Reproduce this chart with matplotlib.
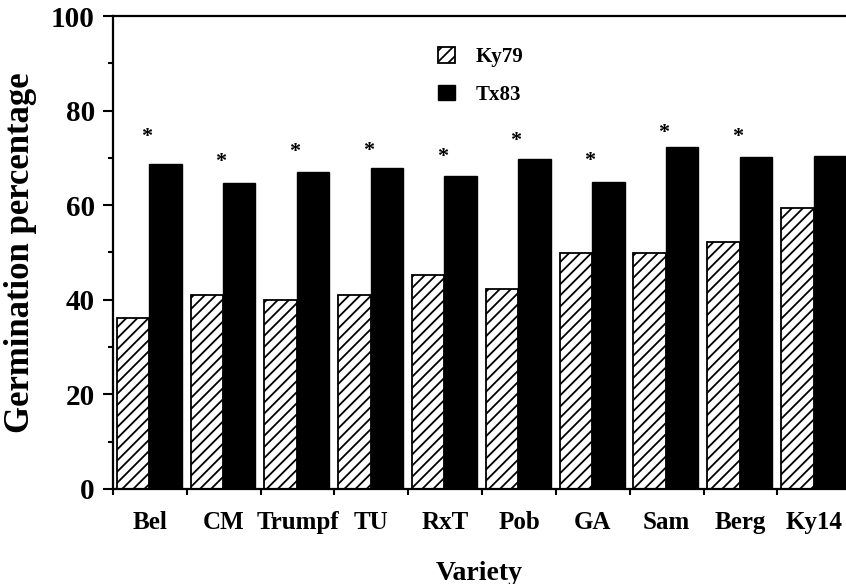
import numpy as np
import matplotlib
matplotlib.use('Agg')
import matplotlib.pyplot as plt
from matplotlib.ticker import FixedLocator, MultipleLocator

varieties = ['Bel', 'CM', 'Trumpf', 'TU', 'RxT', 'Pob', 'GA', 'Sam', 'Berg', 'Ky14']
ky79 = [36.2, 41.0, 40.0, 41.0, 45.2, 42.3, 49.9, 49.9, 52.2, 59.4]
tx83 = [68.7, 64.7, 67.0, 67.9, 66.2, 69.8, 65.0, 72.3, 70.2, 70.3]
# asterisks (significant difference) and their heights
star_y = [74.4, 69.1, 71.2, 71.5, 70.2, 73.6, 69.3, 75.3, 74.4, None]

plt.rcParams['font.family'] = 'Liberation Serif'
plt.rcParams['font.weight'] = 'bold'
plt.rcParams['hatch.linewidth'] = 1.3

fig = plt.figure(figsize=(8.46, 5.84), dpi=100)
ax = fig.add_axes([0.1336, 0.1627, 0.8664, 0.8099])

x = np.arange(len(varieties))
w = 0.44
ax.bar(x + 0.27, ky79, width=w, color='white', edgecolor='black',
       linewidth=1.3, hatch='///', label='Ky79')
ax.bar(x + 0.71, tx83, width=w, color='black', edgecolor='black',
       linewidth=1.0, label='Tx83')

for i, s in enumerate(star_y):
    if s is not None:
        ax.text(x[i] + 0.46, s, '*', ha='center', va='center', fontsize=16,
                fontweight='bold')

ax.set_xlim(0, 9.93)
ax.set_ylim(0, 100)

ax.spines['right'].set_visible(False)
for sp in ['left', 'bottom', 'top']:
    ax.spines[sp].set_linewidth(1.6)

ax.yaxis.set_major_locator(MultipleLocator(20))
ax.yaxis.set_minor_locator(MultipleLocator(10))
ax.tick_params(axis='y', which='major', length=7, width=1.5, pad=6, labelsize=21)
ax.tick_params(axis='y', which='minor', length=3.5, width=1.5)

ax.set_xticks(x + 0.5)
ax.set_xticklabels(varieties)
ax.xaxis.set_minor_locator(FixedLocator(np.arange(0, 10)))
ax.tick_params(axis='x', which='major', length=0, pad=16, labelsize=18)
ax.tick_params(axis='x', which='minor', length=4, width=1.5)

ax.set_ylabel('Germination percentage', fontsize=25, fontweight='bold', labelpad=10)
ax.set_xlabel('Variety', fontsize=20, fontweight='bold', labelpad=19)

ax.legend(loc='upper left', bbox_to_anchor=(0.506, 0.938), bbox_transform=fig.transFigure,
          frameon=False, fontsize=15, handlelength=0.8, handleheight=0.8,
          handletextpad=1.0, labelspacing=0.85, borderpad=0)

fig.savefig('out.png', dpi=100)
